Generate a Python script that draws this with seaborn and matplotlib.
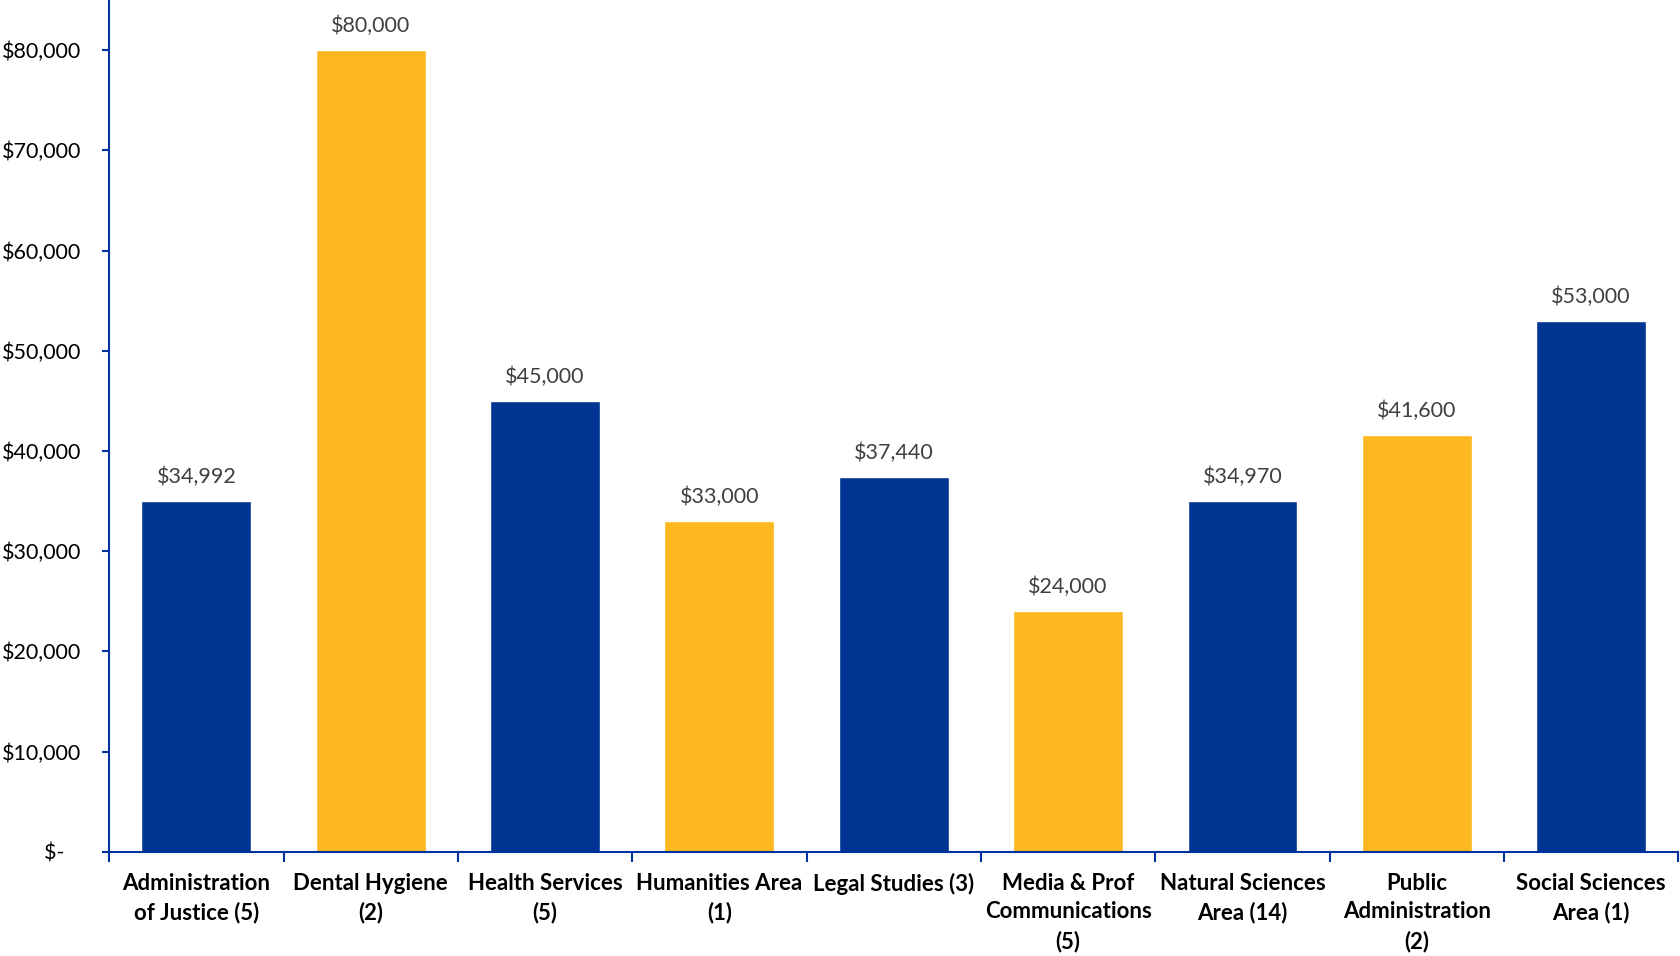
import matplotlib
matplotlib.use("Agg")
import matplotlib.pyplot as plt
import seaborn as sns
import numpy as np
import pandas as pd
from matplotlib.ticker import FixedLocator, FuncFormatter

categories = [
    "Administration\nof Justice (5)",
    "Dental Hygiene\n(2)",
    "Health Services\n(5)",
    "Humanities Area\n(1)",
    "Legal Studies (3)",
    "Media & Prof\nCommunications\n(5)",
    "Natural Sciences\nArea (14)",
    "Public\nAdministration\n(2)",
    "Social Sciences\nArea (1)",
]
salaries = [34992, 80000, 45000, 33000, 37440, 24000, 34970, 41600, 53000]
bar_colors = ["#003594", "#FDB71F", "#003594", "#FDB71F", "#003594",
              "#FDB71F", "#003594", "#FDB71F", "#003594"]
y_ticks = [0, 10000, 20000, 30000, 40000, 50000, 60000, 70000, 80000]

sns.set_theme(style="white")
plt.rcParams["font.family"] = ["Lato", "DejaVu Sans"]

df = pd.DataFrame({"cat": categories, "val": salaries})

fig = plt.figure(figsize=(16.8, 9.56), dpi=100)
ax = fig.add_axes([0.065, 0.109, 0.934, 0.891])

sns.barplot(data=df, x="cat", y="val", hue="cat", palette=bar_colors,
            legend=False, width=0.63, saturation=1, ax=ax)

ax.set_xlim(-0.5, len(categories) - 0.5)
ax.set_ylim(0, 85000)

axis_color = "#0033A0"
for s in ["top", "right"]:
    ax.spines[s].set_visible(False)
for s in ["left", "bottom"]:
    ax.spines[s].set_color(axis_color)
    ax.spines[s].set_linewidth(1.5)

ax.yaxis.set_major_locator(FixedLocator(y_ticks))
ax.yaxis.set_major_formatter(FuncFormatter(lambda v, p: "$-   " if v == 0 else f"${v:,.0f}"))
ax.tick_params(axis="y", which="major", direction="out", length=5, width=1.5,
               color=axis_color, labelsize=15.5, labelcolor="#000000", pad=15, left=True)

ax.set_xticks(range(len(categories)))
ax.set_xticklabels(categories, fontsize=16, fontweight="bold", color="#000000",
                   linespacing=1.45)
ax.tick_params(axis="x", which="major", length=0, pad=15, bottom=False)
ax.set_xticks(np.arange(-0.5, len(categories), 1.0), minor=True)
ax.tick_params(axis="x", which="minor", direction="out", length=7, width=1.5,
               color=axis_color, bottom=True)

ax.set_xlabel("")
ax.set_ylabel("")
ax.grid(False)

for cont in ax.containers:
    ax.bar_label(cont, labels=[f"${v:,.0f}" for v in cont.datavalues],
                 padding=10, fontsize=15.5, color="#404040")

fig.savefig("out.png", dpi=100)
